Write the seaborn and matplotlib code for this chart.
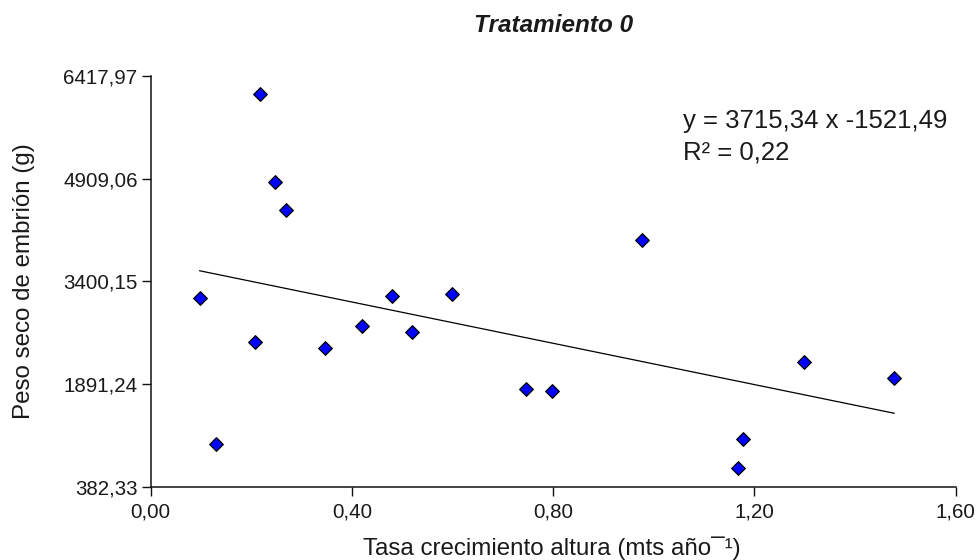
import matplotlib
matplotlib.use("Agg")
import matplotlib.pyplot as plt
import seaborn as sns
import pandas as pd

# ---- data ----
tasa = [0.097, 0.129, 0.208, 0.217, 0.248, 0.268, 0.347, 0.419, 0.479,
        0.519, 0.598, 0.746, 0.798, 0.977, 1.167, 1.177, 1.299, 1.478]
peso = [3153, 1009, 2506, 6149, 4854, 4443, 2418, 2740, 3181,
        2652, 3210, 1825, 1795, 4003, 661, 1091, 2212, 1977]

trend_x = [0.097, 1.478]
trend_y = [3556, 1464]

xticks = [0.0, 0.4, 0.8, 1.2, 1.6]
xtick_labels = ["0,00", "0,40", "0,80", "1,20", "1,60"]
yticks = [382.33, 1891.24, 3400.15, 4909.06, 6417.97]
ytick_labels = ["382,33", "1891,24", "3400,15", "4909,06", "6417,97"]

title = "Tratamiento 0"
xlabel = "Tasa crecimiento altura (mts año\u00af\u00b9)"
ylabel = "Peso seco de embrión (g)"
eq_line1 = "y = 3715,34 x -1521,49"
eq_line2 = "R² = 0,22"

# ---- style ----
sns.set_style("ticks")
plt.rcParams["font.family"] = ["Liberation Sans", "DejaVu Sans"]

W, H = 979, 560
fig = plt.figure(figsize=(W / 100, H / 100), dpi=100)
ax = fig.add_axes([150.7 / W, 1 - 487 / H, 805 / W, (487 - 75.7) / H])

df = pd.DataFrame({"x": tasa, "y": peso})
sns.lineplot(x=trend_x, y=trend_y, color="black", linewidth=0.9, ax=ax)
sns.scatterplot(data=df, x="x", y="y", marker="D", s=48, color="#0000ff",
                edgecolor="black", linewidth=0.9, ax=ax, zorder=3)

ax.set_xlim(0, 1.6)
ax.set_ylim(382.33, 6417.97)
ax.set_xticks(xticks, labels=xtick_labels)
ax.set_yticks(yticks, labels=ytick_labels)
ax.set_xlabel("")
ax.set_ylabel("")
sns.despine(ax=ax)
for s in ("left", "bottom"):
    ax.spines[s].set_linewidth(1.1)
    ax.spines[s].set_color("#111111")
ax.tick_params(axis="both", direction="out", length=6.5, width=1.0,
               color="#111111", labelsize=14.8, labelcolor="#1a1a1a")
ax.tick_params(axis="x", pad=5)
ax.tick_params(axis="y", pad=3)

fig.text(554 / W, 1 - 31.7 / H, title, ha="center", va="baseline",
         fontsize=17.5, fontweight="bold", fontstyle="italic", color="#1a1a1a")
fig.text(552 / W, 1 - 555 / H, xlabel, ha="center", va="baseline",
         fontsize=17.4, color="#1a1a1a")
fig.text(24 / W, 279 / H, ylabel, ha="center", va="center", rotation=90,
         fontsize=17.4, color="#1a1a1a")
fig.text(682.7 / W, 1 - 128.3 / H, eq_line1, ha="left", va="baseline",
         fontsize=18.5, color="#1a1a1a")
fig.text(682.7 / W, 1 - 159.5 / H, eq_line2, ha="left", va="baseline",
         fontsize=18.5, color="#1a1a1a")

fig.savefig("out.png", dpi=100)
